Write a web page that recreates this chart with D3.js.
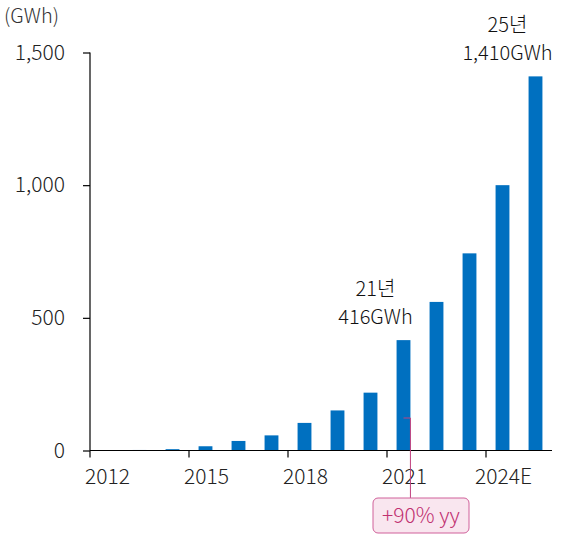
<!DOCTYPE html>
<html><head><meta charset="utf-8">
<script src="https://cdn.jsdelivr.net/npm/d3@7"></script>
<style>body{margin:0;background:#fff}svg{display:block}text{font-family:"Noto Sans CJK KR","Noto Sans",sans-serif;font-weight:300}</style>
</head><body><svg id="c" width="568" height="535"></svg>
<script>
const years = ["2012","2013","2014","2015","2016","2017","2018","2019","2020","2021","2022","2023","2024E","2025E"];
const values = [1, 2, 5, 16, 36, 57, 104, 151, 218, 416, 560, 743, 1000, 1410];
const xTickLabels = ["2012","2015","2018","2021","2024E"];
const yTicks = [0, 500, 1000, 1500];
const unitLabel = "(GWh)";
const callouts = [{year:"2021", lines:["21년","416GWh"]},{year:"2025E", lines:["25년","1,410GWh"]}];
const growthNote = "+90% yy";

(function(){
const svg = d3.select("#c");
const mL = 90, mR = 552, mT = 52.5, mB = 450.5;
const x = d3.scaleBand().domain(years).range([mL, mR]).paddingInner(0.58).paddingOuter(0.29);
const y = d3.scaleLinear().domain([0, 1500]).range([mB, mT]);
const step = x.step();
const fs = "21px";

svg.append("g").selectAll("rect").data(years).join("rect")
  .attr("x", d => x(d)).attr("width", x.bandwidth())
  .attr("y", (d,i) => y(values[i])).attr("height", (d,i) => mB - y(values[i]))
  .attr("fill", "#0070C0");

const ya = svg.append("g").attr("transform", `translate(${mL},0)`)
  .call(d3.axisLeft(y).tickValues(yTicks).tickSize(7).tickPadding(18).tickFormat(d3.format(",")));
ya.selectAll("path,line").attr("stroke", "#000").attr("stroke-width", 1.2);
ya.select(".domain").attr("d", `M0,${mT}V${mB}`);
ya.selectAll("text").attr("font-size", fs).attr("fill", "#222").attr("font-family", null);

const xa = svg.append("g").attr("transform", `translate(0,${mB})`);
xa.append("line").attr("x1", mL).attr("x2", mR).attr("stroke", "#000").attr("stroke-width", 1.2);
xTickLabels.forEach(lbl => {
  const bx = x(lbl) - (step - x.bandwidth())/2;
  xa.append("line").attr("x1", bx).attr("x2", bx).attr("y1", 0).attr("y2", 7).attr("stroke", "#000").attr("stroke-width", 1.2);
  xa.append("text").attr("x", x(lbl) + x.bandwidth()/2 + 1).attr("y", 33)
    .attr("text-anchor", "middle").attr("font-size", fs).attr("fill", "#222").text(lbl);
});

svg.append("text").attr("x", 4).attr("y", 23).attr("font-size", "20px").attr("fill", "#333").text(unitLabel);

callouts.forEach(c => {
  const i = years.indexOf(c.year);
  const cx = x(c.year) + x.bandwidth()/2 - 28;
  const yb = y(values[i]) - 16;
  c.lines.forEach((s, k) => {
    svg.append("text").attr("text-anchor", "middle").attr("font-size", "20px").attr("fill", "#111")
      .attr("x", cx).attr("y", yb - (c.lines.length - 1 - k) * 28).text(s);
  });
});

const gx = x("2021") + x.bandwidth()/2;
const lx = x("2021") + x.bandwidth();
svg.append("path").attr("d", `M${gx},418H${lx}V498`).attr("fill", "none").attr("stroke", "#c0407f").attr("stroke-width", 1);
svg.append("rect").attr("x", 373).attr("y", 498).attr("width", 96).attr("height", 35).attr("rx", 5)
  .attr("fill", "#f9e6ef").attr("stroke", "#d0609a").attr("stroke-width", 1);
svg.append("text").attr("x", 421).attr("y", 523).attr("text-anchor", "middle").attr("font-size", fs)
  .attr("fill", "#c0306f").text(growthNote);
})();
</script></body></html>
